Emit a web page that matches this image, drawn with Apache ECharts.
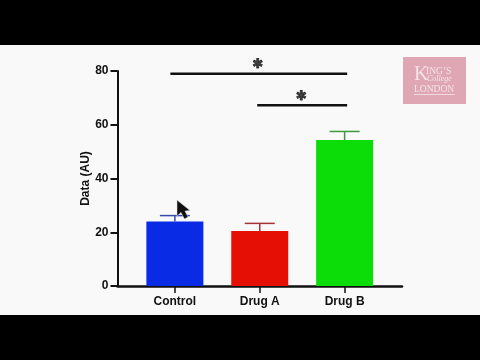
<!DOCTYPE html>
<html>
<head>
<meta charset="utf-8">
<style>
    html, body { margin: 0; padding: 0; background: #000; }
    #chart { width: 480px; height: 360px; }
</style>
<script src="https://cdn.jsdelivr.net/npm/echarts@6/dist/echarts.min.js"></script>
</head>
<body>
<div id="chart"></div>
<script>
const categories = ['Control', 'Drug A', 'Drug B'];
const means = [24, 20.5, 54.3];
const errorTops = [26.2, 23.3, 57.5];
const barColors = ['#0a2be6', '#e60f05', '#0cdc08'];
const errorColors = ['#3a4bb0', '#a83038', '#3f9a3f'];
const yTicks = [0, 20, 40, 60, 80];

// significance brackets, x is in category index units
const bracketTop = [[-0.053, 79], [2.03, 79]];
const bracketLower = [[0.97, 67.3], [2.03, 67.3]];
const stars = [[0.98, 82.5], [1.49, 70.6]];

const fontFamily = '"Liberation Sans", Arial, sans-serif';
const myChart = echarts.init(document.getElementById('chart'));

function bracketSeries(data) {
    return {
        type: 'line',
        data: data,
        symbol: 'none',
        silent: true,
        clip: false,
        lineStyle: { color: '#111', width: 2.5 },
        z: 4,
    };
}

const option = {
    animation: false,
    backgroundColor: '#f9f9f9',
    grid: { left: 117.5, right: 78, top: 71, bottom: 74 },
    xAxis: {
        type: 'value',
        min: -0.676,
        max: 2.676,
        splitLine: { show: false },
        axisLine: { show: true, onZero: false, lineStyle: { color: '#111', width: 2.5 } },
        axisTick: {
            show: true,
            customValues: [0, 1, 2],
            length: 7,
            lineStyle: { color: '#111', width: 1.5 },
        },
        axisLabel: {
            customValues: [0, 1, 2],
            formatter: (v) => categories[v],
            color: '#111',
            fontFamily: fontFamily,
            fontWeight: 'bold',
            fontSize: 12,
            margin: 10,
        },
    },
    yAxis: {
        type: 'value',
        min: 0,
        max: 80,
        interval: 20,
        name: 'Data (AU)',
        nameLocation: 'middle',
        nameGap: 26,
        nameMoveOverlap: false,
        nameTextStyle: {
            color: '#111',
            fontFamily: fontFamily,
            fontWeight: 'bold',
            fontSize: 12,
        },
        splitLine: { show: false },
        axisLine: { show: true, onZero: false, lineStyle: { color: '#111', width: 2 } },
        axisTick: { show: true, length: 7, lineStyle: { color: '#111', width: 2 } },
        axisLabel: {
            formatter: (v) => (yTicks.includes(v) ? String(v) : ''),
            color: '#111',
            fontFamily: fontFamily,
            fontWeight: 'bold',
            fontSize: 12,
            margin: 9,
        },
    },
    series: [
        {
            type: 'bar',
            barWidth: 57,
            data: means.map((v, i) => ({
                value: [i, v],
                itemStyle: { color: barColors[i] },
            })),
            z: 2,
        },
        {
            // error bars, upper side only
            type: 'custom',
            data: errorTops.map((v, i) => [i, means[i], v]),
            encode: { x: 0, y: [1, 2] },
            silent: true,
            renderItem(params, api) {
                const low = api.coord([api.value(0), api.value(1)]);
                const high = api.coord([api.value(0), api.value(2)]);
                const style = {
                    stroke: errorColors[params.dataIndex],
                    lineWidth: 1.5,
                    fill: null,
                };
                return {
                    type: 'group',
                    children: [
                        { type: 'line', shape: { x1: low[0], y1: low[1], x2: high[0], y2: high[1] }, style },
                        { type: 'line', shape: { x1: high[0] - 15, y1: high[1], x2: high[0] + 15, y2: high[1] }, style },
                    ],
                };
            },
            z: 3,
        },
        bracketSeries(bracketTop),
        bracketSeries(bracketLower),
        {
            type: 'scatter',
            data: stars,
            symbolSize: 0,
            silent: true,
            clip: false,
            label: {
                show: true,
                position: 'inside',
                formatter: '\u2731',
                color: '#111',
                textBorderColor: '#111',
                textBorderWidth: 0.8,
                fontFamily: '"DejaVu Sans", sans-serif',
                fontSize: 13,
            },
            z: 4,
        },
    ],
    graphic: [
        // video letterbox
        { type: 'rect', shape: { x: 0, y: 0, width: 480, height: 45 }, style: { fill: '#000' }, z: 10 },
        { type: 'rect', shape: { x: 0, y: 315, width: 480, height: 45 }, style: { fill: '#000' }, z: 10 },
        // logo
        { type: 'rect', shape: { x: 403, y: 57, width: 63, height: 47 }, style: { fill: '#dfa6b4' }, z: 10 },
        {
            type: 'text', x: 414, y: 65, z: 11,
            style: { text: 'K', fill: '#f6e2e7', font: '20px "Liberation Serif", serif' },
        },
        {
            type: 'text', x: 426, y: 66, z: 11,
            style: { text: 'ING\u2019S', fill: '#f6e2e7', font: '9.5px "Liberation Serif", serif' },
        },
        {
            type: 'text', x: 427, y: 75, z: 11,
            style: { text: 'College', fill: '#f6e2e7', font: 'italic 8px "Liberation Serif", serif' },
        },
        {
            type: 'text', x: 414, y: 84, z: 11,
            style: { text: 'LONDON', fill: '#f6e2e7', font: '9.5px "Liberation Serif", serif' },
        },
        { type: 'rect', shape: { x: 414, y: 94, width: 41, height: 1 }, style: { fill: '#f3d9e0' }, z: 11 },
        // mouse pointer from the video frame
        {
            type: 'polygon',
            shape: { points: [[177, 200], [177, 216], [181, 212.5], [184.5, 219], [188, 217], [185, 211], [190, 210.5]] },
            style: { fill: '#111', stroke: '#ddd', lineWidth: 0.5 },
            z: 11,
        },
    ],
};

myChart.setOption(option);
</script>
</body>
</html>
